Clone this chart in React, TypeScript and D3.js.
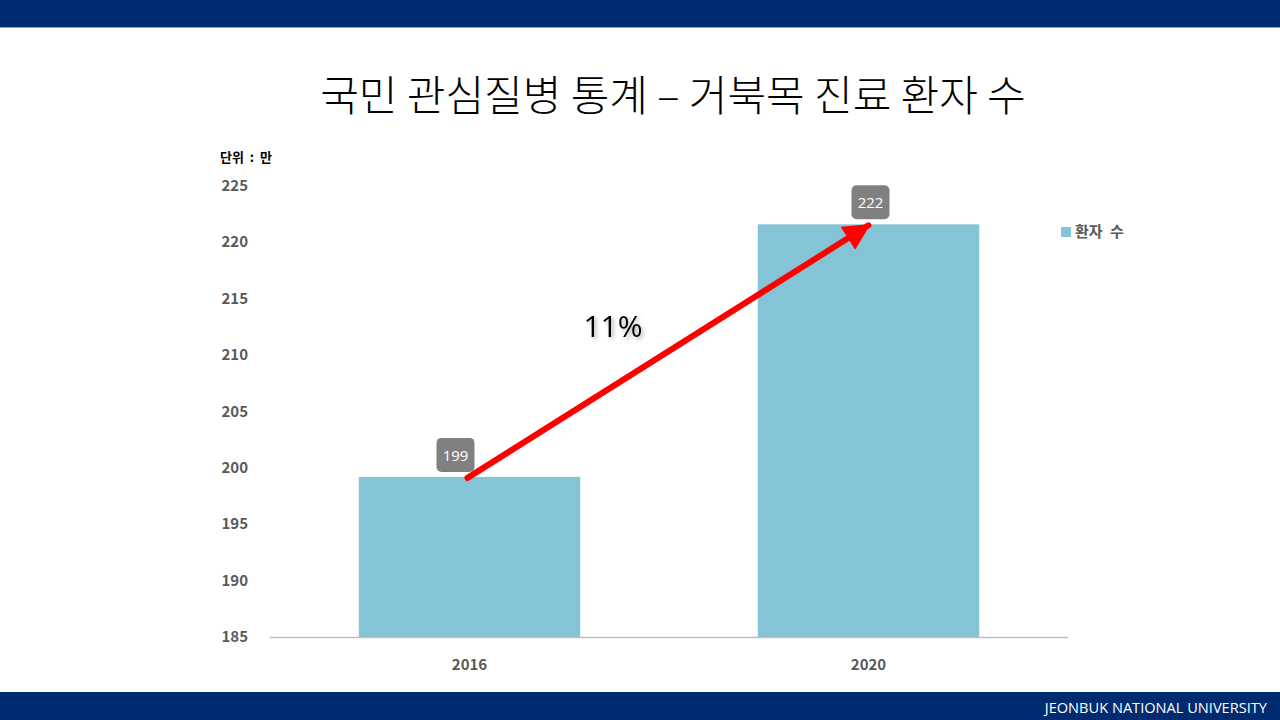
import { useEffect, useRef } from "react";
import * as d3 from "d3";

const categories = ["2016", "2020"];
const patients = [199.2, 221.6];
const valueLabels = ["199", "222"];
const yTicks = [185, 190, 195, 200, 205, 210, 215, 220, 225];
const seriesName = "환자 수";
const growthLabel = "11%";

const W = 1280;
const H = 720;
const FONT = "'Noto Sans CJK KR', 'Noto Sans', sans-serif";

const App: React.FC = () => {
  const svgRef = useRef<SVGSVGElement>(null);

  useEffect(() => {
    if (!svgRef.current) return;
    const svg = d3.select(svgRef.current);
    svg.selectAll("*").remove();

    // background and university bars
    svg.append("rect").attr("width", W).attr("height", H).attr("fill", "#fff");
    svg.append("rect").attr("width", W).attr("height", 27).attr("fill", "#002b70");
    svg.append("rect").attr("y", 27).attr("width", W).attr("height", 1).attr("fill", "#8fa6c4");
    svg.append("rect").attr("y", 692).attr("width", W).attr("height", 28).attr("fill", "#002b70");
    svg
      .append("text")
      .attr("x", 1267)
      .attr("y", 713)
      .attr("text-anchor", "end")
      .attr("font-family", "'Open Sans', 'Noto Sans', sans-serif")
      .attr("font-size", 14.6)
      .attr("fill", "#fff")
      .text("JEONBUK NATIONAL UNIVERSITY");

    // title
    svg
      .append("text")
      .attr("x", 673)
      .attr("y", 111)
      .attr("text-anchor", "middle")
      .attr("font-family", FONT)
      .attr("font-size", 42)
      .attr("font-weight", 300)
      .attr("fill", "#000")
      .text("국민 관심질병 통계 – 거북목 진료 환자 수");

    const x = d3.scaleBand<string>().domain(categories).range([270, 1068]).paddingInner(0.445).paddingOuter(0.2225);
    const y = d3.scaleLinear().domain([185, 225]).range([637, 186]);

    // y tick labels
    svg
      .append("g")
      .selectAll("text")
      .data(yTicks)
      .join("text")
      .attr("x", 248)
      .attr("y", (d) => y(d) + 5)
      .attr("text-anchor", "end")
      .attr("font-family", FONT)
      .attr("font-size", 15)
      .attr("font-weight", "bold")
      .attr("fill", "#595959")
      .text((d) => d);

    svg
      .append("text")
      .attr("x", 220)
      .attr("y", 162)
      .attr("font-family", FONT)
      .attr("font-size", 13)
      .attr("font-weight", "bold")
      .attr("fill", "#000")
      .attr("word-spacing", 3)
      .text("단위 : 만");

    // bars
    svg
      .append("g")
      .selectAll("rect")
      .data(patients)
      .join("rect")
      .attr("x", (_, i) => x(categories[i])!)
      .attr("y", (d) => y(d))
      .attr("width", x.bandwidth())
      .attr("height", (d) => y(185) - y(d))
      .attr("fill", "#84c4d6");

    // baseline
    svg
      .append("line")
      .attr("x1", 270)
      .attr("x2", 1068)
      .attr("y1", 637.5)
      .attr("y2", 637.5)
      .attr("stroke", "#bfbfbf")
      .attr("stroke-width", 1.5);

    // category labels
    svg
      .append("g")
      .selectAll("text")
      .data(categories)
      .join("text")
      .attr("x", (d) => x(d)! + x.bandwidth() / 2)
      .attr("y", 670)
      .attr("text-anchor", "middle")
      .attr("font-family", FONT)
      .attr("font-size", 15)
      .attr("font-weight", "bold")
      .attr("fill", "#595959")
      .text((d) => d);

    // data labels (first one was nudged left to make room for the arrow)
    const lab = svg
      .append("g")
      .selectAll("g")
      .data(patients)
      .join("g")
      .attr(
        "transform",
        (d, i) => `translate(${x(categories[i])! + x.bandwidth() / 2 + (i === 0 ? -14 : 2)},${y(d) - 22})`
      );
    lab
      .append("rect")
      .attr("x", -19)
      .attr("y", -17)
      .attr("width", 38)
      .attr("height", 34)
      .attr("rx", 5)
      .attr("fill", "#808080");
    lab
      .append("text")
      .attr("y", 6)
      .attr("text-anchor", "middle")
      .attr("font-family", "'Open Sans', 'Noto Sans', sans-serif")
      .attr("font-size", 15)
      .attr("fill", "#fff")
      .text((_, i) => valueLabels[i]);

    // growth arrow
    const defs = svg.append("defs");
    defs
      .append("marker")
      .attr("id", "arrowhead")
      .attr("viewBox", "0 0 10 10")
      .attr("refX", 9)
      .attr("refY", 5)
      .attr("markerWidth", 6)
      .attr("markerHeight", 4.5)
      .attr("orient", "auto")
      .attr("markerUnits", "strokeWidth")
      .append("path")
      .attr("d", "M0,0 L10,5 L0,10 z")
      .attr("fill", "#ff0000");
    const shadow = defs.append("filter").attr("id", "shadow").attr("x", "-20%").attr("y", "-20%").attr("width", "150%").attr("height", "150%");
    shadow
      .append("feDropShadow")
      .attr("dx", 2)
      .attr("dy", 2)
      .attr("stdDeviation", 2)
      .attr("flood-color", "#000")
      .attr("flood-opacity", 0.35);

    const x0 = x(categories[0])! + x.bandwidth() / 2 - 2;
    const x1 = x(categories[1])! + x.bandwidth() / 2;
    svg
      .append("line")
      .attr("x1", x0)
      .attr("y1", y(patients[0]) + 1)
      .attr("x2", x1)
      .attr("y2", y(patients[1]) + 1)
      .attr("stroke", "#ff0000")
      .attr("stroke-width", 6)
      .attr("stroke-linecap", "round")
      .attr("marker-end", "url(#arrowhead)");

    svg
      .append("text")
      .attr("x", 613)
      .attr("y", 337)
      .attr("text-anchor", "middle")
      .attr("font-family", "'Open Sans', 'Noto Sans', sans-serif")
      .attr("font-size", 30)
      .attr("fill", "#000")
      .attr("filter", "url(#shadow)")
      .text(growthLabel);

    // legend
    svg.append("rect").attr("x", 1061).attr("y", 227).attr("width", 10).attr("height", 10).attr("fill", "#84c4d6");
    svg
      .append("text")
      .attr("x", 1075)
      .attr("y", 237)
      .attr("font-family", FONT)
      .attr("font-size", 15)
      .attr("font-weight", "bold")
      .attr("fill", "#595959")
      .attr("word-spacing", 4)
      .text(seriesName);
  }, []);

  return (
    <svg
      ref={svgRef}
      width={W}
      height={H}
      style={{ position: "absolute", left: 0, top: 0, display: "block" }}
    />
  );
};

export default App;
